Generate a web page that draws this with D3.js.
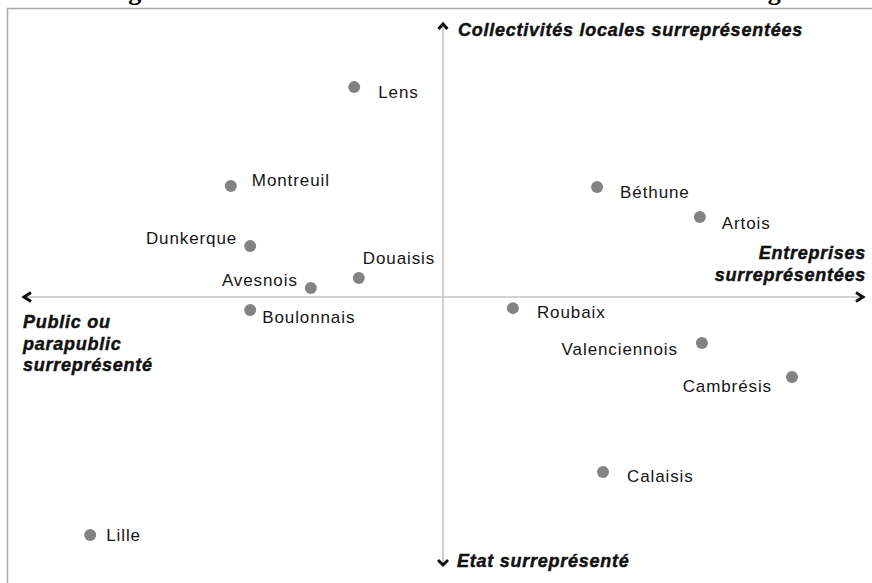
<!DOCTYPE html>
<html>
<head>
<meta charset="utf-8">
<script src="https://cdn.jsdelivr.net/npm/d3@7"></script>
<style>
  html, body { margin: 0; padding: 0; background: #fff; }
  svg { display: block; }
  .pt-label { font-family: "Liberation Sans", Arial, sans-serif; font-size: 17px; letter-spacing: 0.9px; fill: #151515; }
  .ax-label { font-family: "Liberation Sans", Arial, sans-serif; font-size: 18px; font-weight: bold; font-style: italic; letter-spacing: 0.75px; fill: #111; stroke: #111; stroke-width: 0.45px; }
</style>
</head>
<body>
<div id="chart"></div>
<script>
// zones (territories) and their coordinates on the two factorial axes
const zones = ["Lens", "Montreuil", "Béthune", "Artois", "Dunkerque", "Douaisis", "Avesnois",
  "Boulonnais", "Roubaix", "Valenciennois", "Cambrésis", "Calaisis", "Lille"];
const axis1 = [-0.211, -0.504, 0.366, 0.610, -0.458, -0.200, -0.314,
  -0.458, 0.166, 0.615, 0.829, 0.380, -0.838];
const axis2 = [0.792, 0.419, 0.415, 0.302, 0.192, 0.072, 0.034,
  -0.049, -0.042, -0.174, -0.302, -0.660, -0.898];

const title = "Figure 3 – Les réseaux locaux de maîtres d'ouvrage";
const axisTop = "Collectivités locales surreprésentées";
const axisBottom = "Etat surreprésenté";
const axisRight = ["Entreprises", "surreprésentées"];
const axisLeft = ["Public ou", "parapublic", "surreprésenté"];

// label placement next to each dot (layout only)
const labelPos = {
  "Lens": [24, 11, "start"],
  "Montreuil": [21, 0, "start"],
  "Béthune": [23, 11, "start"],
  "Artois": [22, 12, "start"],
  "Dunkerque": [-13, -2, "end"],
  "Douaisis": [4, -14, "start"],
  "Avesnois": [-13, -2, "end"],
  "Boulonnais": [12, 13, "start"],
  "Roubaix": [24, 10, "start"],
  "Valenciennois": [-24, 12, "end"],
  "Cambrésis": [-20, 15, "end"],
  "Calaisis": [24, 10, "start"],
  "Lille": [16, 6, "start"]
};

const width = 872, height = 583;
const svg = d3.select("#chart").append("svg")
  .attr("width", width)
  .attr("height", height);

// title, cut off by the top of the picture as in the scan
svg.append("text")
  .attr("x", 100)
  .attr("y", -0.5)
  .attr("textLength", 695)
  .attr("lengthAdjust", "spacing")
  .style("font-family", "'Liberation Serif', 'Times New Roman', serif")
  .style("font-weight", "bold")
  .style("font-size", "26px")
  .text(title);

// frame
svg.append("rect")
  .attr("x", 7.5).attr("y", 8.5)
  .attr("width", 880).attr("height", 600)
  .attr("fill", "none")
  .attr("stroke", "#a8a8a8")
  .attr("stroke-width", 1.5);

const x = d3.scaleLinear().domain([-1, 1]).range([22, 864]);
const y = d3.scaleLinear().domain([-1, 1]).range([562, 32]);

// axes
const g = svg.append("g");
g.append("line")
  .attr("x1", x(-1) + 2).attr("x2", x(1) - 2)
  .attr("y1", y(0)).attr("y2", y(0))
  .attr("stroke", "#c4c4c4").attr("stroke-width", 1.6);
g.append("line")
  .attr("x1", x(0)).attr("x2", x(0))
  .attr("y1", y(1) - 5).attr("y2", y(-1) + 3)
  .attr("stroke", "#c4c4c4").attr("stroke-width", 1.6);

// chevron arrow heads
const chev = (pts) => g.append("path")
  .attr("d", d3.line()(pts))
  .attr("fill", "none")
  .attr("stroke", "#111")
  .attr("stroke-width", 3)
  .attr("stroke-linejoin", "miter");
chev([[x(-1) + 9, y(0) - 4.5], [x(-1) + 2, y(0)], [x(-1) + 9, y(0) + 4.5]]);
chev([[x(1) - 8, y(0) - 4.5], [x(1) - 1, y(0)], [x(1) - 8, y(0) + 4.5]]);
chev([[x(0) - 4.5, y(1) - 3], [x(0), y(1) - 8], [x(0) + 4.5, y(1) - 3]]);
chev([[x(0) - 5, y(-1) - 2], [x(0), y(-1) + 3], [x(0) + 5, y(-1) - 2]]);

// axis titles
g.append("text").attr("class", "ax-label")
  .attr("x", x(0) + 15).attr("y", 36).text(axisTop);
g.append("text").attr("class", "ax-label")
  .attr("x", x(0) + 14).attr("y", 567).text(axisBottom);
axisRight.forEach((t, i) => g.append("text").attr("class", "ax-label")
  .attr("x", 866).attr("y", 259 + i * 22)
  .attr("text-anchor", "end").text(t));
axisLeft.forEach((t, i) => g.append("text").attr("class", "ax-label")
  .attr("x", 23).attr("y", 328 + i * 21.5).text(t));

// points
const data = zones.map((name, i) => ({ name: name, a1: axis1[i], a2: axis2[i] }));

const pts = svg.append("g")
  .selectAll("g")
  .data(data)
  .enter()
  .append("g")
  .attr("transform", (d) => "translate(" + x(d.a1) + "," + y(d.a2) + ")");

pts.append("circle")
  .attr("r", 6)
  .attr("fill", "#838383");

pts.append("text")
  .attr("class", "pt-label")
  .attr("x", (d) => labelPos[d.name][0])
  .attr("y", (d) => labelPos[d.name][1])
  .attr("text-anchor", (d) => labelPos[d.name][2])
  .text((d) => d.name);
</script>
</body>
</html>
